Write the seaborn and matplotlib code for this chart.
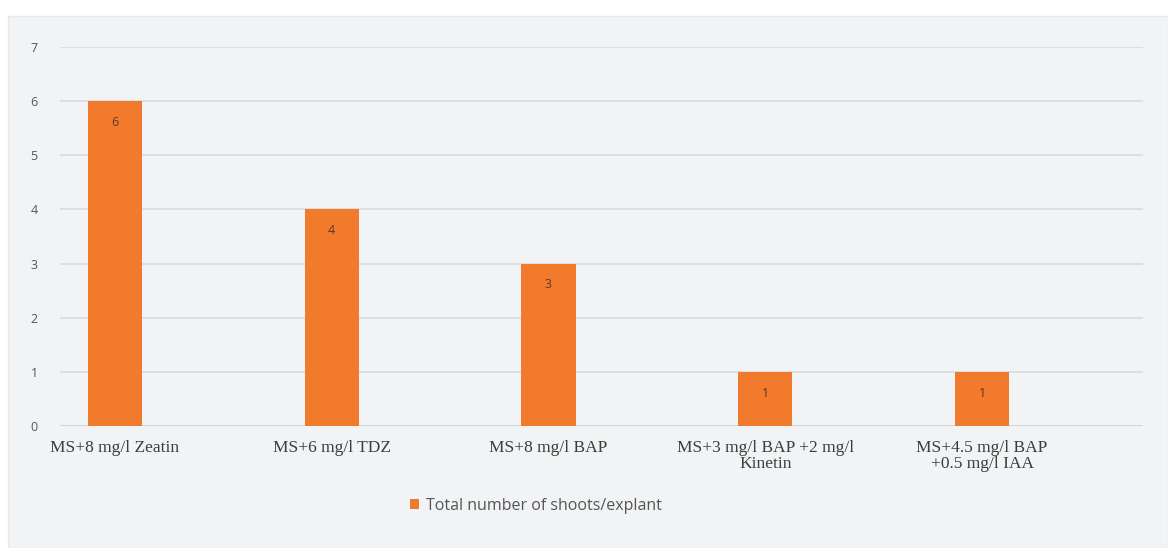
import matplotlib
matplotlib.use("Agg")
import matplotlib.pyplot as plt
import seaborn as sns
import pandas as pd
from matplotlib.patches import Rectangle

# Shoot regeneration by medium
media = [
    "MS+8 mg/l Zeatin",
    "MS+6 mg/l TDZ",
    "MS+8 mg/l BAP",
    "MS+3 mg/l BAP +2 mg/l\nKinetin",
    "MS+4.5 mg/l BAP\n+0.5 mg/l IAA",
]
shoots = [6, 4, 3, 1, 1]
series_name = "Total number of shoots/explant"

df = pd.DataFrame({"medium": media, "shoots": shoots, "series": series_name})

sns.set_theme(style="white")
plt.rcParams["font.family"] = ["Open Sans", "DejaVu Sans"]

fig = plt.figure(figsize=(11.68, 5.48), dpi=100)
fig.patch.set_facecolor("white")
# chart card behind the plot
fig.patches.append(Rectangle((8 / 1168, 0), 1 - 8 / 1168, 1 - 16 / 548,
                             transform=fig.transFigure, facecolor="#f1f3f5",
                             edgecolor="#e6e8ea", linewidth=1.0, zorder=-10))

ax = fig.add_axes([60 / 1168, 1 - 426 / 548, (1143 - 60) / 1168, (426 - 47) / 548])
ax.set_facecolor("none")

bar_color = "#F27A2C"
sns.barplot(data=df, x="medium", y="shoots", hue="series", palette=[bar_color],
            saturation=1, width=0.25, ax=ax, legend=True, zorder=3,
            edgecolor="none", linewidth=0)

ax.set_xlim(-0.253, 4.742)
ax.set_ylim(0, 7)
ax.set_yticks(range(0, 8))
ax.yaxis.grid(True, color="#d6d9dc", linewidth=1.1, zorder=0)
ax.xaxis.grid(False)
for s in ax.spines.values():
    s.set_visible(False)
ax.axhline(0, color="#cfd3d6", linewidth=1.2, zorder=2)

ax.set_xlabel("")
ax.set_ylabel("")
ax.tick_params(axis="y", labelsize=9, labelcolor="#555555", pad=16, length=0)
ax.tick_params(axis="x", length=0, pad=10)
for lbl in ax.get_xticklabels():
    lbl.set_fontfamily("Liberation Serif")
    lbl.set_fontsize(12.5)
    lbl.set_color("#3d3d3d")
    lbl.set_linespacing(1.05)

for cont in ax.containers:
    ax.bar_label(cont, labels=[f"{v:g}" for v in cont.datavalues],
                 label_type="edge", padding=-20, fontsize=9, color="#5a3a26")

sns.move_legend(ax, "center", bbox_to_anchor=((536 - 60) / 1083, -0.21),
                frameon=False, title=None, fontsize=11.5, handlelength=0.55,
                handleheight=0.55, handletextpad=0.4)
for t in ax.get_legend().get_texts():
    t.set_color("#555555")

fig.savefig("out.png", dpi=100, facecolor=fig.get_facecolor())
